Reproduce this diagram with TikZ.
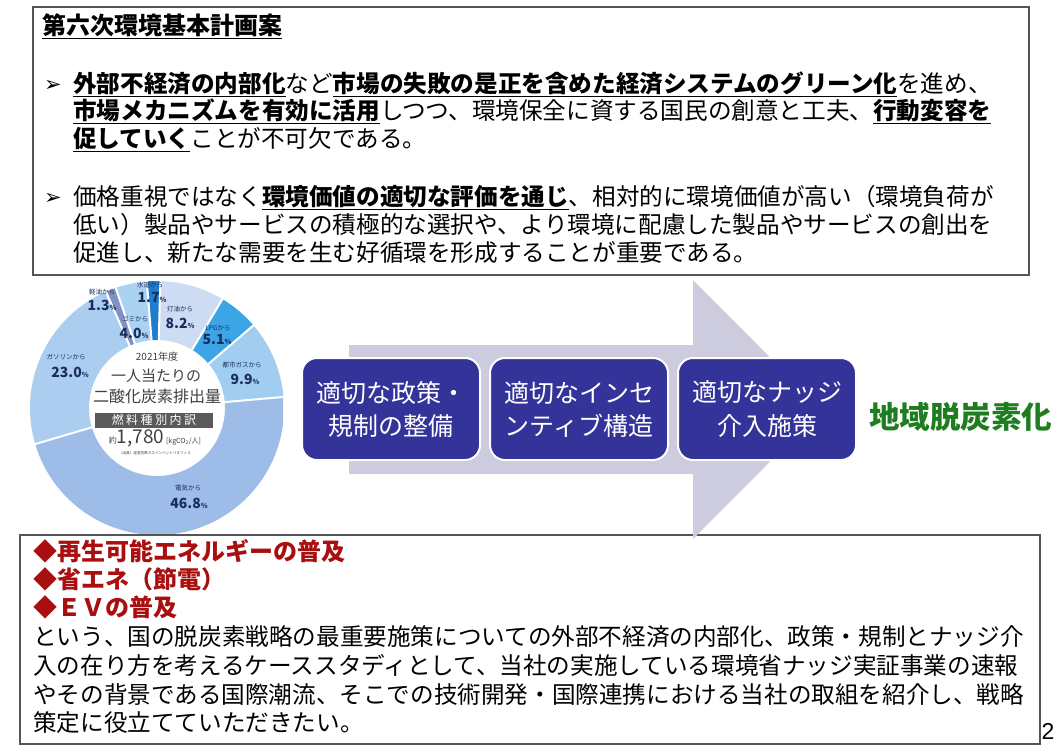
\documentclass[tikz,border=0pt]{standalone}
\usepackage{fontspec}
\setmainfont{Noto Sans CJK JP}
\newfontfamily\symfont{DejaVu Sans}
\newfontfamily\numfont{Liberation Sans}
\usepackage{xcolor}
\definecolor{kankyoNavy}{RGB}{51,51,153}
\definecolor{kankyoArrow}{RGB}{204,204,222}
\definecolor{kankyoGreen}{RGB}{30,125,30}
\definecolor{kankyoRed}{RGB}{170,15,15}
\definecolor{kankyoFrame}{RGB}{85,85,85}
\definecolor{pieElec}{RGB}{157,189,232}
\definecolor{pieGas}{RGB}{170,205,240}
\definecolor{pieKeiyu}{RGB}{128,145,195}
\definecolor{pieGomi}{RGB}{172,210,242}
\definecolor{pieSuido}{RGB}{30,125,205}
\definecolor{pieToyu}{RGB}{205,220,242}
\definecolor{pieLpg}{RGB}{60,165,230}
\definecolor{pieToshi}{RGB}{160,205,240}
\definecolor{pieText}{RGB}{25,45,95}
\definecolor{pieBand}{RGB}{90,90,90}
\usepackage{tikz}
\usetikzlibrary{positioning}

\newcommand\kyocho[2][1.5pt]{\setbox0=\hbox{\bfseries #2}\rlap{\rule[-5pt]{\wd0}{#1}}\box0}
\newcommand\pctval[1]{#1{\fontsize{7}{7}\selectfont\%}}

\begin{document}
\begin{tikzpicture}[x=1pt, y=-1pt,
  node distance=10pt,
  body/.style={anchor=base west, inner sep=0pt, font=\fontsize{23.6}{28}\selectfont},
  redline/.style={anchor=base west, inner sep=0pt, text=kankyoRed,
                  font=\fontsize{24}{28}\selectfont\bfseries},
  bulletsym/.style={anchor=base west, inner sep=0pt, font=\fontsize{21}{24}\symfont\bfseries},
  boxframe/.style={draw=kankyoFrame, line width=1.5pt},
  navybox/.style={rectangle, rounded corners=15pt, draw=white, line width=2pt,
                  fill=kankyoNavy, text=white, minimum width=178pt, minimum height=102pt,
                  inner sep=0pt, outer sep=0pt, align=center,
                  font=\fontsize{25}{33}\selectfont},
  pielbl/.style={inner sep=0pt, text=pieText, font=\fontsize{6.5}{7}\selectfont},
  pieval/.style={inner sep=0pt, text=pieText, font=\fontsize{14}{15}\selectfont\bfseries},
  piemid/.style={inner sep=0pt, text=black!75},
]
  \useasboundingbox[fill=white] (0,0) rectangle (1056,748);

  \draw[boxframe] (33,7) rectangle (1029,275);
  \node[anchor=base west, inner sep=0pt, font=\fontsize{24}{28}\selectfont] (title) at (42,34)
    {\kyocho[1pt]{第六次環境基本計画案}};

  \node[bulletsym] (b1) at (44,91) {➢};
  \node[body] (l1a) at (73,92)
    {\kyocho{外部不経済の内部化}など\kyocho{市場の失敗の是正を含めた経済システムのグリーン化}を進め、};
  \node[body] (l1b) at (73,119)
    {\kyocho{市場メカニズムを有効に活用}しつつ、環境保全に資する国民の創意と工夫、\kyocho{行動変容を}};
  \node[body] (l1c) at (73,147) {\kyocho{促していく}ことが不可欠である。};

  \node[bulletsym] (b2) at (44,204) {➢};
  \node[body] (l2a) at (73,205)
    {価格重視ではなく\kyocho{環境価値の適切な評価を通じ}、相対的に環境価値が高い（環境負荷が};
  \node[body] (l2b) at (73,233)
    {低い）製品やサービスの積極的な選択や、より環境に配慮した製品やサービスの創出を};
  \node[body] (l2c) at (73,261) {促進し、新たな需要を生む好循環を形成することが重要である。};

  \begin{scope}
    \clip (28,278) rectangle (283,535);
    \begin{scope}[shift={(157,408)}]
      \foreach \a/\b/\c in {5/-163.5/pieElec, 196.5/113.7/pieGas, 113.7/109/pieKeiyu,
                            109/94.6/pieGomi, 94.6/88.5/pieSuido, 88.5/59/pieToyu,
                            59/40.6/pieLpg, 40.6/5/pieToshi}
        \fill[\c] (\a:127pt) arc[start angle=\a, end angle=\b, radius=127pt]
          -- (\b:68pt) arc[start angle=\b, end angle=\a, radius=68pt] -- cycle;
      \foreach \a in {5,196.5,113.7,109,94.6,88.5,59,40.6}
        \draw[white, line width=2pt] (\a:66pt) -- (\a:129pt);
    \end{scope}
  \end{scope}

  \node[pielbl] (k1) at (102,292) {軽油から};
  \node[pieval] (k2) at (102,305) {\pctval{1.3}};
  \node[pielbl] (s1) at (150,285) {水道から};
  \node[pieval] (s2) at (152,298) {\pctval{1.7}};
  \node[pielbl] (g1) at (135,319) {ゴミから};
  \node[pieval] (g2) at (134,333) {\pctval{4.0}};
  \node[pielbl] (t1) at (180,309) {灯油から};
  \node[pieval] (t2) at (180,323) {\pctval{8.2}};
  \node[pielbl] (p1) at (218,328) {LPGから};
  \node[pieval] (p2) at (217,340) {\pctval{5.1}};
  \node[pielbl] (c1) at (242,365) {都市ガスから};
  \node[pieval] (c2) at (245,379) {\pctval{9.9}};
  \node[pielbl] (h1) at (66,357) {ガソリンから};
  \node[pieval] (h2) at (70,372) {\pctval{23.0}};
  \node[pielbl] (e1) at (188,488) {電気から};
  \node[pieval] (e2) at (189,503) {\pctval{46.8}};

  \node[piemid, font=\fontsize{10}{10}\selectfont] (yr) at (157,357) {2021年度};
  \node[piemid, font=\fontsize{15}{15}\selectfont] (per) at (156,376) {一人当たりの};
  \node[piemid, font=\fontsize{16}{16}\selectfont] (co2) at (157,396) {二酸化炭素排出量};
  \node[fill=pieBand, text=white, minimum width=118pt, minimum height=15pt, inner sep=0pt,
        font=\fontsize{12}{12}\selectfont] (band) at (154,420)
    {燃\hspace{2.5pt}料\hspace{2.5pt}種\hspace{2.5pt}別\hspace{2.5pt}内\hspace{2.5pt}訳};
  \node[piemid] (tot) at (155,438)
    {{\fontsize{8}{8}\selectfont 約}{\fontsize{19}{19}\selectfont 1,780}\,{\fontsize{7}{7}\selectfont [kgCO\textsubscript{2}/人]}};
  \node[piemid, font=\fontsize{3.6}{4}\selectfont] (src) at (155,453)
    {（出典）温室効果ガスインベントリオフィス};

  \draw[boxframe, fill=white] (20,535) rectangle (1040,744);
  \node[redline] (r1) at (33,560) {◆再生可能エネルギーの普及};
  \node[redline] (r2) at (33,588) {◆省エネ（節電）};
  \node[redline] (r3) at (33,616) {◆ＥＶの普及};
  \node[body] (m1) at (33,645)
    {という、国の脱炭素戦略の最重要施策についての外部不経済の内部化、政策・規制とナッジ介};
  \node[body] (m2) at (33,674)
    {入の在り方を考えるケーススタディとして、当社の実施している環境省ナッジ実証事業の速報};
  \node[body] (m3) at (33,703)
    {やその背景である国際潮流、そこでの技術開発・国際連携における当社の取組を紹介し、戦略};
  \node[body] (m4) at (33,731) {策定に役立てていただきたい。};
  \node[inner sep=0pt, font=\fontsize{23}{24}\selectfont\numfont] (pg) at (1048,731) {2};

  \fill[kankyoArrow] (349,345) -- (693,345) -- (693,280) -- (822,409.5)
    -- (693,539) -- (693,474) -- (349,474) -- cycle;

  \node[navybox] (pol) at (391,409) {適切な政策・\\規制の整備};
  \node[navybox, right=of pol] (inc) {適切なインセ\\ンティブ構造};
  \node[navybox, right=of inc] (nud) {適切なナッジ\\介入施策};
  \node[right=13pt of nud, yshift=-8pt, inner sep=0pt, text=kankyoGreen,
        font=\fontsize{30.5}{32}\selectfont\bfseries] (goal) {地域脱炭素化};
\end{tikzpicture}
\end{document}
